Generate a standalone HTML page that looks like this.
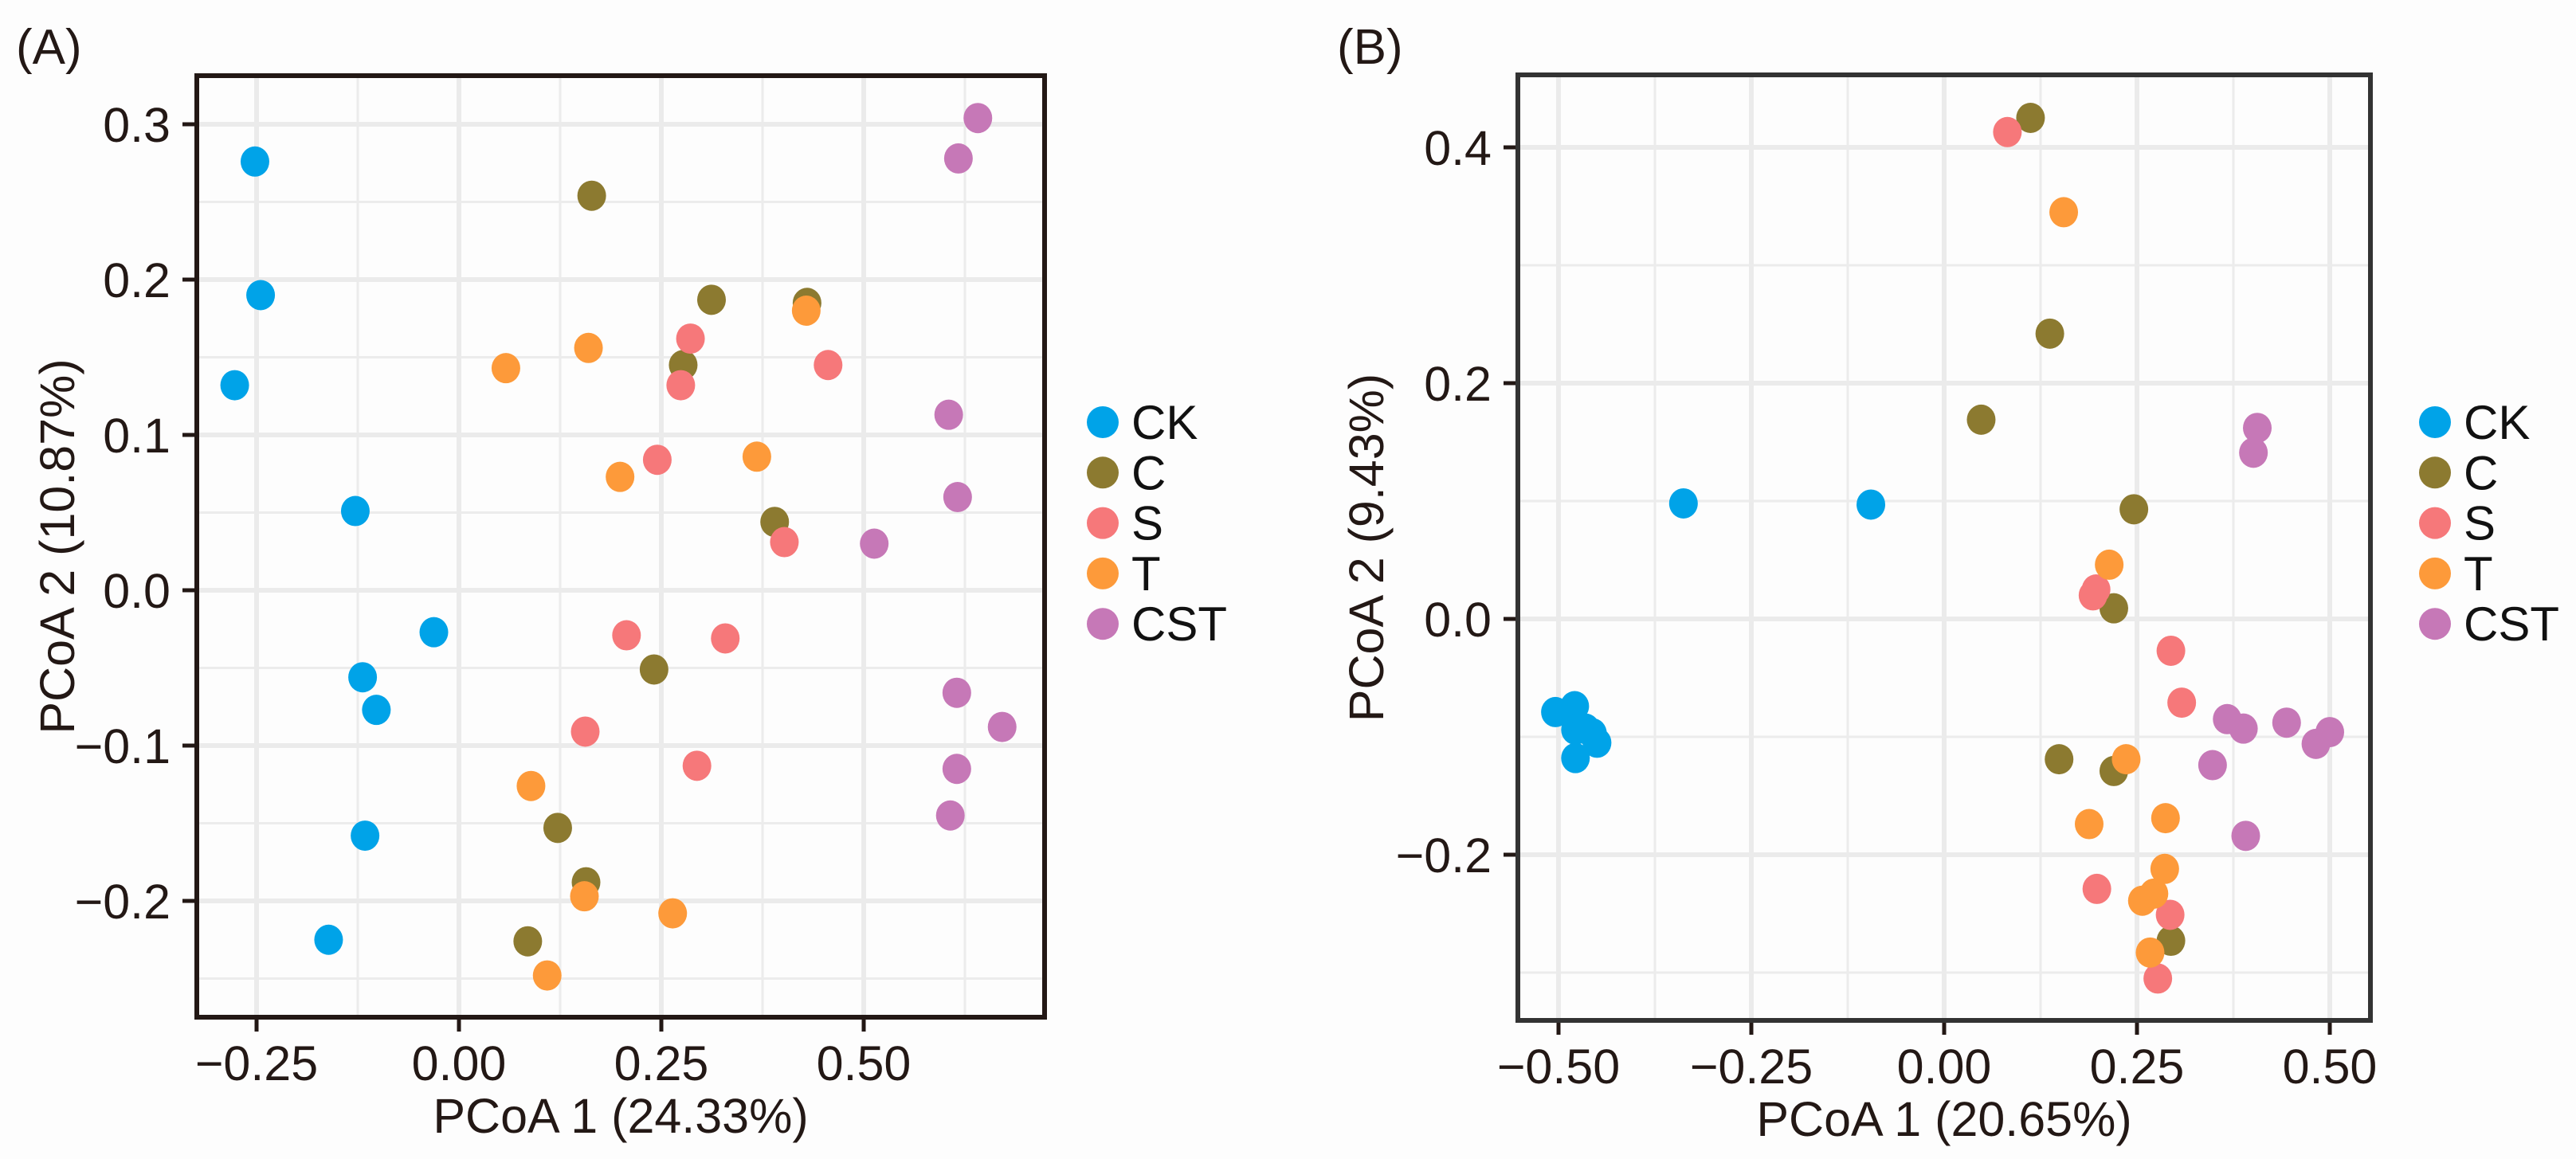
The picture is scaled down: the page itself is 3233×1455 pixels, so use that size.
<!DOCTYPE html>
<html><head><meta charset="utf-8"><style>
html,body{margin:0;padding:0;background:#fdfdfd;}
svg{display:block;font-family:"Liberation Sans",Arial,sans-serif;}
</style></head><body>
<svg id="fig" width="3233" height="1455" viewBox="0 0 3233 1455" xmlns="http://www.w3.org/2000/svg">
<rect x="0" y="0" width="3233" height="1455" fill="#fdfdfd"/>
</svg>
<script>
// ---- Data ----
const groups = ["CK","C","S","T","CST"];
const colors = ["#00a3e8","#8c7a30","#f6787a","#fd9a3a","#c678b7"];
// Panel A
const aCKx = [-0.252,-0.245,-0.277,-0.128,-0.031,-0.119,-0.102,-0.116,-0.161];
const aCKy = [0.276,0.190,0.132,0.051,-0.027,-0.056,-0.077,-0.158,-0.225];
const aCx = [0.164,0.312,0.430,0.277,0.390,0.241,0.122,0.157,0.085];
const aCy = [0.254,0.187,0.185,0.145,0.044,-0.051,-0.153,-0.188,-0.226];
const aSx = [0.286,0.274,0.456,0.245,0.402,0.207,0.329,0.156,0.294];
const aSy = [0.162,0.132,0.145,0.084,0.031,-0.029,-0.031,-0.091,-0.113];
const aTx = [0.058,0.160,0.429,0.199,0.368,0.089,0.155,0.264,0.109];
const aTy = [0.143,0.156,0.180,0.073,0.086,-0.126,-0.197,-0.208,-0.248];
const aCSTx = [0.641,0.617,0.605,0.616,0.513,0.615,0.671,0.615,0.607];
const aCSTy = [0.304,0.278,0.113,0.060,0.030,-0.066,-0.088,-0.115,-0.145];
const aXTicks = [-0.25,0,0.25,0.5];
const aXTickLabels = ["\u22120.25","0.00","0.25","0.50"];
const aYTicks = [0.3,0.2,0.1,0,-0.1,-0.2];
const aYTickLabels = ["0.3","0.2","0.1","0.0","\u22120.1","\u22120.2"];
// Panel B
const bCKx = [-0.504,-0.479,-0.478,-0.465,-0.456,-0.450,-0.478,-0.338,-0.095];
const bCKy = [-0.079,-0.074,-0.094,-0.093,-0.097,-0.105,-0.118,0.098,0.097];
const bCx = [0.112,0.137,0.048,0.246,0.220,0.149,0.220,0.294];
const bCy = [0.425,0.242,0.169,0.093,0.009,-0.119,-0.129,-0.273];
const bSx = [0.082,0.197,0.193,0.294,0.308,0.198,0.293,0.277];
const bSy = [0.413,0.025,0.020,-0.027,-0.071,-0.229,-0.251,-0.305];
const bTx = [0.155,0.214,0.236,0.188,0.287,0.286,0.257,0.272,0.267];
const bTy = [0.345,0.046,-0.119,-0.174,-0.169,-0.212,-0.239,-0.233,-0.283];
const bCSTx = [0.406,0.401,0.367,0.388,0.444,0.482,0.500,0.348,0.391];
const bCSTy = [0.162,0.141,-0.085,-0.093,-0.088,-0.106,-0.096,-0.124,-0.184];
const bXTicks = [-0.5,-0.25,0,0.25,0.5];
const bXTickLabels = ["\u22120.50","\u22120.25","0.00","0.25","0.50"];
const bYTicks = [0.4,0.2,0,-0.2];
const bYTickLabels = ["0.4","0.2","0.0","\u22120.2"];

const NS="http://www.w3.org/2000/svg";
const svg=document.getElementById('fig');
function mk(tag,attrs,parent){const e=document.createElementNS(NS,tag);for(const k in attrs)e.setAttribute(k,attrs[k]);(parent||svg).appendChild(e);return e;}

function panel(cfg){
  const g=mk('g',{});
  
  
  const sx=v=>cfg.x0px+(v-cfg.x0v)*cfg.xs;
  const sy=v=>cfg.y0px-(v-cfg.y0v)*cfg.ys;
  mk('rect',{x:cfg.L,y:cfg.T,width:cfg.R-cfg.L,height:cfg.B-cfg.T,fill:'#fdfdfd'},g);
  cfg.xMinor.forEach(v=>{const p=sx(v);if(p>cfg.L&&p<cfg.R){const l=mk('line',{x1:p,x2:p,y1:cfg.T,y2:cfg.B,stroke:'#ececec','stroke-width':3},g);
    
    }});
  cfg.yMinor.forEach(v=>{const p=sy(v);if(p>cfg.T&&p<cfg.B){const l=mk('line',{x1:cfg.L,x2:cfg.R,y1:p,y2:p,stroke:'#ececec','stroke-width':3},g);
    
    }});
  cfg.xTicks.forEach((v,i)=>{const p=sx(v);
    const l=mk('line',{x1:p,x2:p,y1:cfg.T,y2:cfg.B,stroke:'#ebebeb','stroke-width':6},g);
    
    
    const t=mk('line',{x1:p,x2:p,y1:cfg.B,y2:cfg.B+18,stroke:'#231815','stroke-width':5},g);
    
    
    const tx=mk('text',{x:p,y:cfg.B+79,'text-anchor':'middle','font-size':61,fill:'#231815'},g);
    tx.textContent=cfg.xLabels[i];
    
    });
  cfg.yTicks.forEach((v,i)=>{const p=sy(v);
    const l=mk('line',{x1:cfg.L,x2:cfg.R,y1:p,y2:p,stroke:'#ebebeb','stroke-width':6},g);
    
    
    const t=mk('line',{x1:cfg.L-18,x2:cfg.L,y1:p,y2:p,stroke:'#231815','stroke-width':5},g);
    
    
    const tx=mk('text',{x:cfg.L-33,y:p+22,'text-anchor':'end','font-size':61,fill:'#231815'},g);
    tx.textContent=cfg.yLabels[i];
    
    });
  cfg.series.forEach((s,gi)=>{s[0].forEach((xv,i)=>{
    const c=mk('ellipse',{cx:sx(xv),cy:sy(s[1][i]),rx:18,ry:19,fill:colors[gi]},g);
    
    });});
  const box=mk('rect',{x:cfg.L,y:cfg.T,width:cfg.R-cfg.L,height:cfg.B-cfg.T,fill:'none',stroke:cfg.boxColor,'stroke-width':6},g);
  
  
  const xt=mk('text',{x:(cfg.L+cfg.R)/2,y:cfg.B+145,'text-anchor':'middle','font-size':61,fill:'#231815'},g);
  xt.textContent=cfg.xTitle;
  
  
  const yc=(cfg.T+cfg.B)/2;
  const yt=mk('text',{x:cfg.yTitleX,y:yc,'text-anchor':'middle','font-size':61,fill:'#231815',transform:`rotate(-90 ${cfg.yTitleX} ${yc})`},g);
  yt.textContent=cfg.yTitle;
  
  
  const pl=mk('text',{x:cfg.labelX,y:80,'font-size':62,fill:'#231815'},g);
  pl.textContent=cfg.label;
  
  
  const lg=mk('g',{},g);
  
  
  groups.forEach((n,i)=>{const y=530+i*63.3;
    const e=mk('g',{},lg);
    
    
    mk('circle',{cx:cfg.legX,cy:y,r:20,fill:colors[i]},e);
    const t=mk('text',{x:cfg.legX+36,y:y+21,'font-size':60,fill:'#111'},e);
    t.textContent=n;});
}

panel({name:'panel-a',L:247,R:1311,T:95,B:1277,x0v:0,x0px:576,xs:254/0.25,y0v:0.3,y0px:156,ys:1950,
  xTicks:aXTicks,xLabels:aXTickLabels,yTicks:aYTicks,yLabels:aYTickLabels,
  xMinor:[-0.375,-0.125,0.125,0.375,0.625],yMinor:[0.35,0.25,0.15,0.05,-0.05,-0.15,-0.25],
  series:[[aCKx,aCKy],[aCx,aCy],[aSx,aSy],[aTx,aTy],[aCSTx,aCSTy]],
  xTitle:'PCoA 1 (24.33%)',yTitle:'PCoA 2 (10.87%)',yTitleX:93,label:'(A)',labelX:20,legX:1384,boxColor:'#231815'});
panel({name:'panel-b',L:1905,R:2975,T:94,B:1281,x0v:-0.5,x0px:1956,xs:242/0.25,y0v:0.4,y0px:185,ys:1480,
  xTicks:bXTicks,xLabels:bXTickLabels,yTicks:bYTicks,yLabels:bYTickLabels,
  xMinor:[-0.375,-0.125,0.125,0.375],yMinor:[0.3,0.1,-0.1,-0.3],
  series:[[bCKx,bCKy],[bCx,bCy],[bSx,bSy],[bTx,bTy],[bCSTx,bCSTy]],
  xTitle:'PCoA 1 (20.65%)',yTitle:'PCoA 2 (9.43%)',yTitleX:1736,label:'(B)',labelX:1678,legX:3056,boxColor:'#333333'});
</script>
</body></html>
